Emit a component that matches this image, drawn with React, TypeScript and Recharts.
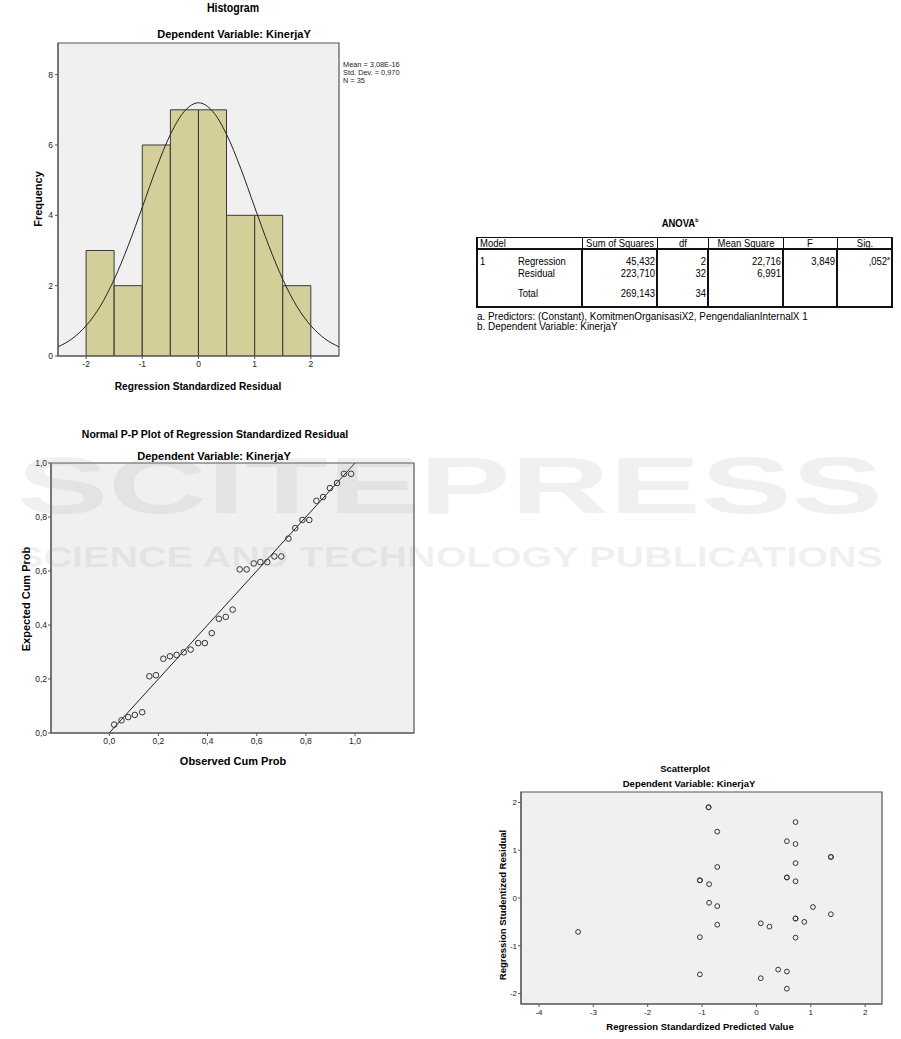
import React from 'react';
import {
  ComposedChart, Bar, Line, XAxis, YAxis, CartesianGrid,
  ScatterChart, Scatter, ReferenceLine, ReferenceArea,
} from 'recharts';

// ---------- Histogram data ----------
const binCenters = [-2.25, -1.75, -1.25, -0.75, -0.25, 0.25, 0.75, 1.25, 1.75, 2.25];
const binCounts = [0, 3, 2, 6, 7, 7, 4, 4, 2, 0];
const curveX = [-2.5, -2.25, -2, -1.75, -1.5, -1.25, -1, -0.75, -0.5, -0.25, 0, 0.25, 0.5, 0.75, 1, 1.25, 1.5, 1.75, 2, 2.25, 2.5];
const curveY = [0.26, 0.49, 0.86, 1.41, 2.18, 3.14, 4.23, 5.34, 6.3, 6.96, 7.2, 6.96, 6.3, 5.34, 4.23, 3.14, 2.18, 1.41, 0.86, 0.49, 0.26];
const histXTicks = [-2, -1, 0, 1, 2];
const histYTicks = [0, 2, 4, 6, 8];
const histXDomain = [-2.5, 2.5];
const histYDomain = [0, 8.9];
const histStats = ['Mean = 3,08E-16', 'Std. Dev. = 0,970', 'N = 35'];

// ---------- P-P plot data ----------
const ppObserved = [0.02, 0.05, 0.077, 0.104, 0.134, 0.163, 0.19, 0.22, 0.247, 0.274, 0.303, 0.331, 0.362, 0.389, 0.417, 0.446, 0.474, 0.502, 0.531, 0.559, 0.588, 0.615, 0.643, 0.672, 0.7, 0.729, 0.757, 0.786, 0.814, 0.843, 0.87, 0.898, 0.927, 0.955, 0.984];
const ppExpected = [0.031, 0.047, 0.059, 0.067, 0.077, 0.21, 0.214, 0.275, 0.284, 0.289, 0.299, 0.309, 0.333, 0.333, 0.37, 0.423, 0.43, 0.457, 0.606, 0.606, 0.628, 0.633, 0.633, 0.654, 0.654, 0.72, 0.759, 0.789, 0.789, 0.86, 0.874, 0.907, 0.926, 0.96, 0.96];
const ppTicks = [0, 0.2, 0.4, 0.6, 0.8, 1.0];
const ppXDomain = [-0.237, 1.24];
const ppYDomain = [0, 1];

// ---------- Scatterplot data ----------
const scPredicted = [-0.88, -0.88, 0.72, -0.72, 0.56, 0.72, 1.37, 1.37, 0.72, -0.72, 0.56, 0.56, -1.04, -1.04, -0.87, 0.72, -0.87, -0.72, 1.04, 1.37, 0.72, 0.72, 0.88, 0.08, 0.24, -0.72, -3.28, -1.04, 0.72, 0.4, 0.56, -1.04, 0.08, 0.56];
const scResidual = [1.9, 1.9, 1.59, 1.39, 1.19, 1.13, 0.86, 0.86, 0.73, 0.65, 0.43, 0.43, 0.37, 0.37, 0.29, 0.35, -0.1, -0.17, -0.19, -0.34, -0.43, -0.43, -0.5, -0.53, -0.6, -0.56, -0.71, -0.82, -0.83, -1.5, -1.54, -1.6, -1.68, -1.9];
const scXTicks = [-4, -3, -2, -1, 0, 1, 2];
const scYTicks = [-2, -1, 0, 1, 2];
const scXDomain = [-4.33, 2.31];
const scYDomain = [-2.22, 2.22];

// ---------- ANOVA table ----------
const anovaHeaders = ['Model', 'Sum of Squares', 'df', 'Mean Square', 'F', 'Sig.'];
const anovaRows = ['Regression', 'Residual', 'Total'];
const anovaSS = ['45,432', '223,710', '269,143'];
const anovaDf = ['2', '32', '34'];
const anovaMS = ['22,716', '6,991', ''];
const anovaF = ['3,849', '', ''];
const anovaSig = [',052', '', ''];
const anovaNotes = [
  'a. Predictors: (Constant), KomitmenOrganisasiX2, PengendalianInternalX 1',
  'b. Dependent Variable: KinerjaY',
];

const SANS = "'Liberation Sans', Arial, sans-serif";
const PLOT_BG = '#f0f0f0';
const BORDER = '#555';

const comma1 = (v: number) => v.toFixed(1).replace('.', ',');

const histData = binCenters.map((c, i) => ({ c: String(c), n: binCounts[i] }));
const curveData = curveX.map((x, i) => ({ x, y: curveY[i] }));
const ppData = ppObserved.map((x, i) => ({ x, y: ppExpected[i] }));
const scData = scPredicted.map((x, i) => ({ x, y: scResidual[i] }));

type TxtProps = {
  x: number; y: number; size: number; bold?: boolean; rotate?: boolean; sx?: number;
  anchor?: 'middle' | 'start' | 'end'; color?: string; children: React.ReactNode;
};
const Txt = ({ x, y, size, bold, rotate, sx = 1, anchor = 'middle', color = '#000', children }: TxtProps) => {
  const tx = anchor === 'middle' ? '-50%' : anchor === 'end' ? '-100%' : '0';
  const origin = anchor === 'middle' ? 'center center' : anchor === 'end' ? 'right center' : 'left center';
  return (
    <div
      style={{
        position: 'absolute', left: x, top: y, whiteSpace: 'nowrap',
        transform: `translate(${tx}, -50%)${rotate ? ' rotate(-90deg)' : ''} scaleX(${sx})`,
        transformOrigin: origin,
        fontSize: size, fontWeight: bold ? 'bold' : 'normal', fontFamily: SANS,
        color, lineHeight: 1,
      }}
    >
      {children}
    </div>
  );
};

const Circle = (r: number) => (p: any) => (
  <circle cx={p.cx} cy={p.cy} r={r} fill="none" stroke="#333" strokeWidth={1} />
);

const tickStyle = (size: number) => ({ fontSize: size, fill: '#222', fontFamily: SANS });

const Histogram = () => (
  <div style={{ position: 'absolute', left: 0, top: 0, width: 420, height: 400 }}>
    <ComposedChart
      width={420} height={400} data={histData}
      margin={{ top: 43, left: 28, right: 81, bottom: 24 }}
      barCategoryGap={0} barGap={0}
    >
      <CartesianGrid fill={PLOT_BG} horizontal={false} vertical={false} xAxisId="num" />
      <XAxis xAxisId="cat" dataKey="c" type="category" hide height={0} />
      <XAxis
        xAxisId="num" dataKey="x" type="number" domain={histXDomain} ticks={histXTicks}
        allowDataOverflow height={20} tickSize={3} stroke={BORDER} tick={tickStyle(8.5)}
      />
      <YAxis
        type="number" domain={histYDomain} ticks={histYTicks} allowDataOverflow width={30}
        tickSize={3} stroke={BORDER} tick={tickStyle(8.5)}
      />
      <Bar xAxisId="cat" dataKey="n" fill="#d4cf99" stroke="#3a3a3a" strokeWidth={1} isAnimationActive={false} />
      <Line
        xAxisId="num" data={curveData} dataKey="y" type="monotone" stroke="#222" strokeWidth={1}
        dot={false} isAnimationActive={false}
      />
      <ReferenceArea
        xAxisId="num" x1={histXDomain[0]} x2={histXDomain[1]} y1={histYDomain[0]} y2={histYDomain[1]}
        fill="none" fillOpacity={0} stroke={BORDER} strokeWidth={1.2}
      />
    </ComposedChart>
    <Txt x={233} y={8} size={12} bold sx={0.88}>Histogram</Txt>
    <Txt x={234} y={34} size={11} bold>Dependent Variable: KinerjaY</Txt>
    <Txt x={38} y={199} size={11} bold rotate>Frequency</Txt>
    <Txt x={198} y={386} size={11} bold sx={0.92}>Regression Standardized Residual</Txt>
    {histStats.map((s, i) => (
      <Txt key={s} x={343} y={65 + i * 8} size={8} anchor="start" color="#222" sx={0.92}>{s}</Txt>
    ))}
  </div>
);

const PPPlot = () => (
  <div style={{ position: 'absolute', left: 0, top: 420, width: 430, height: 350 }}>
    <ScatterChart width={430} height={350} margin={{ top: 43, left: 26, right: 16, bottom: 17 }}>
      <CartesianGrid fill={PLOT_BG} horizontal={false} vertical={false} />
      <XAxis
        dataKey="x" type="number" domain={ppXDomain} ticks={ppTicks} allowDataOverflow
        height={20} tickSize={3} stroke={BORDER} tickFormatter={comma1} tick={tickStyle(8.5)}
      />
      <YAxis
        dataKey="y" type="number" domain={ppYDomain} ticks={ppTicks} allowDataOverflow width={25}
        tickSize={3} tickMargin={1} stroke={BORDER} tickFormatter={comma1} tick={tickStyle(8.5)}
      />
      <ReferenceArea
        x1={ppXDomain[0]} x2={ppXDomain[1]} y1={ppYDomain[0]} y2={ppYDomain[1]}
        fill="none" fillOpacity={0} stroke={BORDER} strokeWidth={1.2}
      />
      <ReferenceLine segment={[{ x: 0, y: 0 }, { x: 1, y: 1 }]} stroke="#222" strokeWidth={1} />
      <Scatter data={ppData} shape={Circle(2.8)} isAnimationActive={false} />
    </ScatterChart>
    <Txt x={215} y={14} size={11} bold sx={0.95}>Normal P-P Plot of Regression Standardized Residual</Txt>
    <Txt x={214} y={36} size={11} bold>Dependent Variable: KinerjaY</Txt>
    <Txt x={26} y={179} size={11} bold rotate>Expected Cum Prob</Txt>
    <Txt x={233} y={341} size={11} bold>Observed Cum Prob</Txt>
  </div>
);

const ResidualScatter = () => (
  <div style={{ position: 'absolute', left: 480, top: 760, width: 420, height: 275 }}>
    <ScatterChart width={420} height={275} margin={{ top: 32, left: 21, right: 18, bottom: 16 }}>
      <CartesianGrid fill={PLOT_BG} horizontal={false} vertical={false} />
      <XAxis
        dataKey="x" type="number" domain={scXDomain} ticks={scXTicks} allowDataOverflow
        height={15} tickSize={3} stroke={BORDER} tick={tickStyle(8)}
      />
      <YAxis
        dataKey="y" type="number" domain={scYDomain} ticks={scYTicks} allowDataOverflow width={20}
        tickSize={3} tickMargin={1} stroke={BORDER} tick={tickStyle(8)}
      />
      <ReferenceArea
        x1={scXDomain[0]} x2={scXDomain[1]} y1={scYDomain[0]} y2={scYDomain[1]}
        fill="none" fillOpacity={0} stroke={BORDER} strokeWidth={1.2}
      />
      <Scatter data={scData} shape={Circle(2.4)} isAnimationActive={false} />
    </ScatterChart>
    <Txt x={205} y={9} size={9.5} bold>Scatterplot</Txt>
    <Txt x={209} y={24} size={9.5} bold>Dependent Variable: KinerjaY</Txt>
    <Txt x={23} y={145} size={9.5} bold rotate>Regression Studentized Residual</Txt>
    <Txt x={220} y={267} size={9.5} bold>Regression Standardized Predicted Value</Txt>
  </div>
);

const colEdges = [477, 582, 657, 708, 783, 837, 892];
const AnovaTable = () => {
  const line = (l: number, t: number, w: number, h: number, key: string) => (
    <div key={key} style={{ position: 'absolute', left: l, top: t, width: w, height: h, background: '#111' }} />
  );
  const rowY = [261, 273, 293];
  const S = 11;
  const SX = 0.86;
  const lines: React.ReactNode[] = [];
  lines.push(line(477, 237, 415, 1, 'top'));
  lines.push(line(477, 248, 415, 2, 'hdr'));
  lines.push(line(477, 306, 415, 2, 'bot'));
  colEdges.forEach((x, i) => {
    if (i === 0 || i === colEdges.length - 1) {
      lines.push(line(x - 1, 237, 2, 71, 'v' + i));
    } else {
      lines.push(line(x, 237, 1, 12, 'vh' + i));
      lines.push(line(x - 1, 249, 2, 58, 'vb' + i));
    }
  });
  const cols = [anovaSS, anovaDf, anovaMS, anovaF, anovaSig];
  return (
    <div>
      <Txt x={680} y={223} size={11} bold sx={SX}>ANOVA<sup style={{ fontSize: 6 }}>b</sup></Txt>
      {lines}
      <Txt x={480} y={243} size={S} anchor="start" sx={SX}>{anovaHeaders[0]}</Txt>
      {anovaHeaders.slice(1).map((h, i) => (
        <Txt key={h} x={(colEdges[i + 1] + colEdges[i + 2]) / 2} y={243} size={S} sx={SX}>{h}</Txt>
      ))}
      <Txt x={480} y={rowY[0]} size={S} anchor="start" sx={SX}>1</Txt>
      {anovaRows.map((r, i) => (
        <Txt key={r} x={518} y={rowY[i]} size={S} anchor="start" sx={SX}>{r}</Txt>
      ))}
      {cols.map((col, ci) =>
        col.map((v, ri) =>
          v ? (
            <Txt key={ci + '-' + ri} x={colEdges[ci + 2] - 2} y={rowY[ri]} size={S} anchor="end" sx={SX}>
              {v}{ci === 4 ? <sup style={{ fontSize: 6 }}>a</sup> : null}
            </Txt>
          ) : null
        )
      )}
      {anovaNotes.map((n, i) => (
        <Txt key={n} x={477} y={316 + i * 10} size={S} anchor="start" sx={0.9}>{n}</Txt>
      ))}
    </div>
  );
};

const Watermark = () => (
  <svg width={901} height={1039} style={{ position: 'absolute', left: 0, top: 0, pointerEvents: 'none' }}>
    <g fill="#8a8a8a" fillOpacity={0.13} fontFamily={SANS} fontWeight="bold">
      <text x={17} y={513} fontSize={80} textLength={866} lengthAdjust="spacingAndGlyphs">SCITEPRESS</text>
      <text x={17} y={567} fontSize={30} textLength={866} lengthAdjust="spacingAndGlyphs">SCIENCE AND TECHNOLOGY PUBLICATIONS</text>
    </g>
  </svg>
);

export default function App() {
  return (
    <div style={{ position: 'absolute', left: 0, top: 0, width: 901, height: 1039, background: '#fff', overflow: 'hidden' }}>
      <Histogram />
      <AnovaTable />
      <PPPlot />
      <ResidualScatter />
      <Watermark />
    </div>
  );
}
